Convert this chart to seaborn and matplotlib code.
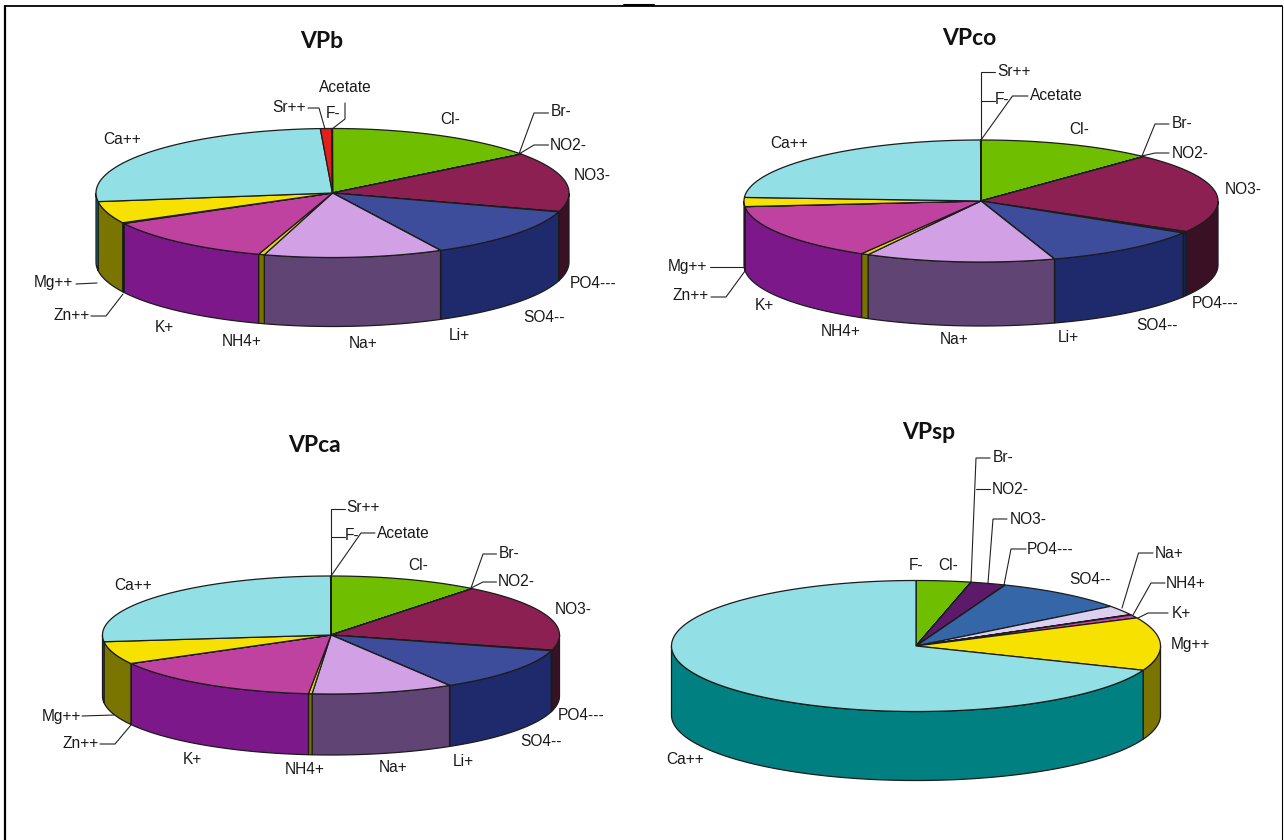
import numpy as np
import matplotlib
matplotlib.use("Agg")
import matplotlib.pyplot as plt
from matplotlib.lines import Line2D
from matplotlib.patches import Polygon
import seaborn as sns

# Share of each ion in the profile (percent), clockwise from twelve o'clock
ions_full = ["Cl-", "Br-", "NO2-", "NO3-", "PO4---", "SO4--", "Li+", "Na+",
             "NH4+", "K+", "Zn++", "Mg++", "Ca++", "Sr++", "F-", "Acetate"]
vpb_values = [14.7, 0.01, 0.01, 14.9, 0.1, 12.7, 0.01, 12.2,
              0.4, 12.1, 0.2, 5.5, 26.3, 0.8, 0.01, 0.01]
vpco_values = [12.0, 0.01, 0.01, 21.3, 0.4, 11.2, 0.01, 12.9,
               0.5, 15.1, 0.01, 2.4, 24.0, 0.01, 0.01, 0.01]
vpca_values = [10.6, 0.01, 0.01, 18.5, 0.2, 12.0, 0.01, 10.0,
               0.25, 15.4, 0.01, 6.2, 26.8, 0.01, 0.01, 0.01]

ions_sp = ["F-", "Cl-", "Br-", "NO2-", "NO3-", "PO4---", "SO4--", "Na+",
           "NH4+", "K+", "Mg++", "Ca++"]
vpsp_values = [0.01, 3.6, 0.01, 0.01, 2.3, 0.02, 8.7, 2.4, 0.1, 0.8, 13.1, 69.0]

# Face and wall colours per ion
top_full = ["#6fbf00", "#8c2052", "#8c2052", "#8c2052", "#1f2a6c", "#3e4c9c", "#3e4c9c", "#d2a0e5",
            "#e8d800", "#bf42a0", "#2a1028", "#f7e100", "#92dfe5", "#e0201c", "#92dfe5", "#6fbf00"]
wall_full = ["#375f00", "#3a1025", "#3a1025", "#3a1025", "#14234f", "#1f2a6c", "#1f2a6c", "#5f4474",
             "#7a7200", "#7d188a", "#2a1028", "#7a7500", "#008080", "#701010", "#008080", "#375f00"]
top_sp = ["#92dfe5", "#6fbf00", "#5d1a6b", "#5d1a6b", "#5d1a6b", "#3566a8", "#3566a8", "#dcd0f0",
          "#5d1a6b", "#c844a8", "#f7e100", "#92dfe5"]
wall_sp = ["#008080", "#375f00", "#2e0d35", "#2e0d35", "#2e0d35", "#1b3354", "#1b3354", "#6e6878",
           "#2e0d35", "#642254", "#7a7500", "#008080"]

# Quadrant rectangles in pixels; the pie geometry and labels use the same pixel units
FIG_W, FIG_H = 1284, 840
panels = [
    dict(title="VPb", ions=ions_full, values=vpb_values, top=top_full, wall=wall_full,
         box=(0, 0, 642, 420), c=(332.5, 193), r=(236.5, 64.5), depth=69, tpos=(322, 56),
         labels={"Acetate": (345, 88), "Sr++": (289, 108), "F-": (333, 113), "Cl-": (450, 120),
                 "Br-": (561, 112), "NO2-": (568, 145), "NO3-": (592, 175), "PO4---": (593, 283),
                 "SO4--": (544, 317), "Li+": (459, 335), "Na+": (363, 344), "NH4+": (242, 341),
                 "K+": (164, 327), "Zn++": (72, 315), "Mg++": (53, 283), "Ca++": (122, 139)},
         leaders=[[(308, 108), (319, 108), (325, 129)], [(345, 103), (345, 119), (332, 129)],
                  [(548.5, 113), (534, 113), (519, 154)], [(548.5, 145), (534, 145), (519, 154)],
                  [(91, 316), (106, 316), (123, 294)], [(76, 284), (97, 283)]]),
    dict(title="VPco", ions=ions_full, values=vpco_values, top=top_full, wall=wall_full,
         box=(642, 0, 1284, 420), c=(981, 201), r=(237, 61), depth=64, tpos=(969.5, 53),
         labels={"Sr++": (1014, 71), "F-": (1002, 100), "Acetate": (1056, 96), "Cl-": (1079, 129),
                 "Br-": (1182, 124), "NO2-": (1190, 153), "NO3-": (1243, 189), "PO4---": (1215, 303),
                 "SO4--": (1157, 325), "Li+": (1068, 337), "Na+": (954, 339), "NH4+": (841, 331),
                 "K+": (764, 306), "Zn++": (691, 296), "Mg++": (687, 267), "Ca++": (789, 144)},
         leaders=[[(995, 72), (981, 72), (981, 140)], [(995, 101), (981, 101)],
                  [(1028, 96), (1012.5, 96), (981, 140)],
                  [(1169, 124), (1155, 124), (1142, 156)], [(1169, 153), (1155, 153), (1142, 156)],
                  [(709.5, 267), (744, 267)], [(711, 297), (726, 297), (745, 271)]]),
    dict(title="VPca", ions=ions_full, values=vpca_values, top=top_full, wall=wall_full,
         box=(0, 420, 642, 840), c=(331, 635), r=(228.5, 59), depth=61, tpos=(314, 460),
         labels={"Sr++": (363, 508), "F-": (352, 536), "Acetate": (403, 533), "Cl-": (418, 565),
                 "Br-": (509, 553), "NO2-": (516, 581), "NO3-": (573, 610), "PO4---": (581, 715),
                 "SO4--": (541, 741), "Li+": (463, 761), "Na+": (393, 768), "NH4+": (305, 770),
                 "K+": (192, 760), "Zn++": (81, 744), "Mg++": (61, 716), "Ca++": (133, 585)},
         leaders=[[(345, 509), (331, 509), (331, 576)], [(345, 537), (331, 537)],
                  [(375, 533), (361, 533), (331, 576)],
                  [(496.5, 554), (483, 554), (471, 588)], [(496.5, 582), (483, 582), (471, 588)],
                  [(82, 716), (114, 715)], [(100, 744), (115, 744), (131, 725)]]),
    dict(title="VPsp", ions=ions_sp, values=vpsp_values, top=top_sp, wall=wall_sp,
         box=(642, 420, 1284, 840), c=(916, 646), r=(244.5, 65.5), depth=69, tpos=(928.5, 447),
         labels={"Br-": (1003, 458), "NO2-": (1010, 489), "NO3-": (1028, 519), "PO4---": (1050, 549),
                 "F-": (916, 566), "Cl-": (948, 566), "SO4--": (1090, 580), "Na+": (1169, 553),
                 "NH4+": (1186, 583), "K+": (1181, 613), "Mg++": (1190, 644), "Ca++": (685, 760)},
         leaders=[[(990, 458), (976, 458), (971, 582)], [(990, 489), (976, 489)],
                  [(1007, 519), (993, 519), (988, 583)], [(1026, 549), (1011, 549), (1004, 585)],
                  [(1153, 553), (1138.5, 553), (1122, 608)], [(1165, 583), (1151, 583), (1133, 615)],
                  [(1168, 613), (1148, 613), (1138, 618)]]),
]

EDGE = "#1c1c1c"
sns.set_theme(style="white")
plt.rcParams["font.family"] = ["Liberation Sans", "DejaVu Sans"]
fig = plt.figure(figsize=(FIG_W / 100, FIG_H / 100), dpi=100, facecolor="white")


def rim(theta, c, r, drop=0.0):
    """Points on the tilted pie rim; theta in degrees clockwise from the top."""
    t = np.radians(theta)
    return np.column_stack([c[0] + r[0] * np.sin(t), c[1] - r[1] * np.cos(t) + drop])


def draw_pie(ax, panel):
    c, r, depth = panel["c"], panel["r"], panel["depth"]
    values = np.asarray(panel["values"], dtype=float)
    edges = np.concatenate([[0.0], np.cumsum(values) / values.sum() * 360.0])
    top_colors = sns.color_palette(panel["top"])
    wall_colors = sns.color_palette(panel["wall"])

    # Outer wall: only the part of each slice that faces the viewer
    for start, stop, col in zip(edges[:-1], edges[1:], wall_colors):
        a, b = max(start, 90.0), min(stop, 270.0)
        if b <= a:
            continue
        arc = np.linspace(a, b, max(int(b - a) * 2, 2))
        pts = np.vstack([rim(arc, c, r), rim(arc[::-1], c, r, depth)])
        ax.add_patch(Polygon(pts, closed=True, facecolor=col, edgecolor=EDGE, linewidth=0.9, zorder=2))

    # Top face sectors
    for start, stop, col in zip(edges[:-1], edges[1:], top_colors):
        arc = np.linspace(start, stop, max(int(stop - start) * 2, 2))
        pts = np.vstack([[c], rim(arc, c, r)])
        ax.add_patch(Polygon(pts, closed=True, facecolor=col, edgecolor=EDGE, linewidth=0.9, zorder=3))


for panel in panels:
    x0, y0, x1, y1 = panel["box"]
    ax = fig.add_axes([x0 / FIG_W, 1 - y1 / FIG_H, (x1 - x0) / FIG_W, (y1 - y0) / FIG_H])
    ax.set_xlim(x0, x1)
    ax.set_ylim(y1, y0)
    ax.axis("off")

    draw_pie(ax, panel)

    for path in panel["leaders"]:
        xs, ys = zip(*path)
        ax.plot(xs, ys, color="#222222", lw=0.8, zorder=4, solid_joinstyle="miter")
    for name, (lx, ly) in panel["labels"].items():
        ax.text(lx, ly, name, ha="center", va="center", fontsize=11.2, color="#1a1a1a", zorder=5)

    tx, ty = panel["tpos"]
    ax.set_title(panel["title"], x=(tx - x0) / (x1 - x0), y=(y1 - ty) / (y1 - y0),
                 fontsize=16.5, fontweight="bold", family="Lato", color="#111111", va="baseline")

# Page frame around the four panels
W, H = FIG_W, FIG_H
frame = [((5, 6), (1282, 6), 1.3), ((5, 6), (5, 840), 1.6), ((1282, 6), (1282, 840), 0.8),
         ((624, 5.4), (654, 5.4), 1.5)]
for (xa, ya), (xb, yb), lw in frame:
    fig.add_artist(Line2D([xa / W, xb / W], [1 - ya / H, 1 - yb / H], color="black", lw=lw))

fig.savefig("out.png", dpi=100)
